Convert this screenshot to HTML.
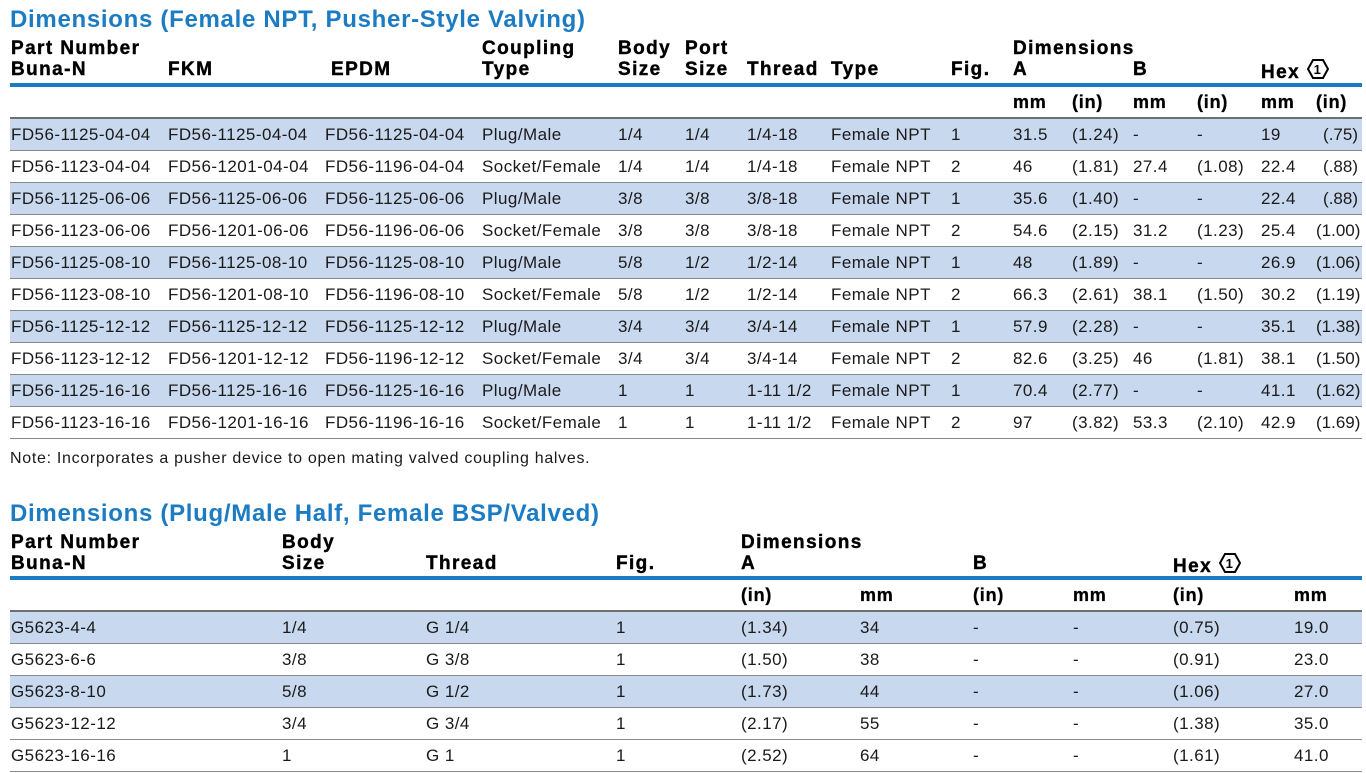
<!DOCTYPE html>
<html><head><meta charset="utf-8"><style>
body{margin:0;width:1366px;height:773px;background:#fff;font-family:"Liberation Sans",Arial,sans-serif;color:#1a1a1a;position:relative;overflow:hidden}
.t{position:absolute;left:10px;font-size:24px;font-weight:bold;color:#1b7cc4;white-space:nowrap;letter-spacing:0.7px}
.h{position:absolute;font-size:19px;font-weight:bold;line-height:21px;white-space:nowrap;color:#000;letter-spacing:1.4px;-webkit-text-stroke:0.4px #000}
.bl{position:absolute;left:10px;width:1352px;height:4px;background:#1b7cc4}
table{position:absolute;left:10px;border-collapse:collapse;table-layout:fixed;width:1352px}
td{height:31px;padding:0 0 0 1px;font-size:17px;letter-spacing:0.45px;white-space:nowrap;border-bottom:1px solid #8a8a8a;vertical-align:middle;overflow:visible}
tr.u td{font-weight:bold;font-size:18px;letter-spacing:0.8px;border-bottom:2px solid #6f6f6f;height:30px;color:#000;-webkit-text-stroke:0.3px #000}
tr.s td{background:#c8d8ee}
.r{text-align:right;padding-right:4px;letter-spacing:0}
.note{position:absolute;left:10px;top:450px;font-size:16px;letter-spacing:0.7px}
</style></head><body>
<div class="t" style="top:6px">Dimensions (Female NPT, Pusher-Style Valving)</div>
<div class="h" style="left:11px;top:38px">Part Number<br>Buna-N</div>
<div class="h" style="left:168px;top:59px">FKM</div>
<div class="h" style="left:331px;top:59px">EPDM</div>
<div class="h" style="left:482px;top:38px">Coupling<br>Type</div>
<div class="h" style="left:618px;top:38px">Body<br>Size</div>
<div class="h" style="left:685px;top:38px">Port<br>Size</div>
<div class="h" style="left:747px;top:59px">Thread</div>
<div class="h" style="left:831px;top:59px">Type</div>
<div class="h" style="left:951px;top:59px">Fig.</div>
<div class="h" style="left:1013px;top:38px">Dimensions<br>A</div>
<div class="h" style="left:1133px;top:59px">B</div>
<div class="h" style="left:1261px;top:59px">Hex <svg width="22" height="20" viewBox="0 0 22 20" style="vertical-align:-1px"><polygon points="6,1 16,1 21,10 16,19 6,19 1,10" fill="none" stroke="#000" stroke-width="2"/><text x="11" y="15" font-size="13" font-weight="bold" text-anchor="middle" font-family="Liberation Sans">1</text></svg></div>
<div class="bl" style="top:83px"></div>
<table style="top:87px">
<colgroup><col style="width:157px"><col style="width:157px"><col style="width:157px"><col style="width:136px"><col style="width:67px"><col style="width:62px"><col style="width:84px"><col style="width:120px"><col style="width:62px"><col style="width:59px"><col style="width:61px"><col style="width:64px"><col style="width:64px"><col style="width:55px"><col style="width:47px"></colgroup>
<tr class="u"><td></td><td></td><td></td><td></td><td></td><td></td><td></td><td></td><td></td><td>mm</td><td>(in)</td><td>mm</td><td>(in)</td><td>mm</td><td>(in)</td></tr>
<tr class="s"><td>FD56-1125-04-04</td><td>FD56-1125-04-04</td><td>FD56-1125-04-04</td><td>Plug/Male</td><td>1/4</td><td>1/4</td><td>1/4-18</td><td>Female NPT</td><td>1</td><td>31.5</td><td>(1.24)</td><td>-</td><td>-</td><td>19</td><td class="r">(.75)</td></tr>
<tr><td>FD56-1123-04-04</td><td>FD56-1201-04-04</td><td>FD56-1196-04-04</td><td>Socket/Female</td><td>1/4</td><td>1/4</td><td>1/4-18</td><td>Female NPT</td><td>2</td><td>46</td><td>(1.81)</td><td>27.4</td><td>(1.08)</td><td>22.4</td><td class="r">(.88)</td></tr>
<tr class="s"><td>FD56-1125-06-06</td><td>FD56-1125-06-06</td><td>FD56-1125-06-06</td><td>Plug/Male</td><td>3/8</td><td>3/8</td><td>3/8-18</td><td>Female NPT</td><td>1</td><td>35.6</td><td>(1.40)</td><td>-</td><td>-</td><td>22.4</td><td class="r">(.88)</td></tr>
<tr><td>FD56-1123-06-06</td><td>FD56-1201-06-06</td><td>FD56-1196-06-06</td><td>Socket/Female</td><td>3/8</td><td>3/8</td><td>3/8-18</td><td>Female NPT</td><td>2</td><td>54.6</td><td>(2.15)</td><td>31.2</td><td>(1.23)</td><td>25.4</td><td class="r">(1.00)</td></tr>
<tr class="s"><td>FD56-1125-08-10</td><td>FD56-1125-08-10</td><td>FD56-1125-08-10</td><td>Plug/Male</td><td>5/8</td><td>1/2</td><td>1/2-14</td><td>Female NPT</td><td>1</td><td>48</td><td>(1.89)</td><td>-</td><td>-</td><td>26.9</td><td class="r">(1.06)</td></tr>
<tr><td>FD56-1123-08-10</td><td>FD56-1201-08-10</td><td>FD56-1196-08-10</td><td>Socket/Female</td><td>5/8</td><td>1/2</td><td>1/2-14</td><td>Female NPT</td><td>2</td><td>66.3</td><td>(2.61)</td><td>38.1</td><td>(1.50)</td><td>30.2</td><td class="r">(1.19)</td></tr>
<tr class="s"><td>FD56-1125-12-12</td><td>FD56-1125-12-12</td><td>FD56-1125-12-12</td><td>Plug/Male</td><td>3/4</td><td>3/4</td><td>3/4-14</td><td>Female NPT</td><td>1</td><td>57.9</td><td>(2.28)</td><td>-</td><td>-</td><td>35.1</td><td class="r">(1.38)</td></tr>
<tr><td>FD56-1123-12-12</td><td>FD56-1201-12-12</td><td>FD56-1196-12-12</td><td>Socket/Female</td><td>3/4</td><td>3/4</td><td>3/4-14</td><td>Female NPT</td><td>2</td><td>82.6</td><td>(3.25)</td><td>46</td><td>(1.81)</td><td>38.1</td><td class="r">(1.50)</td></tr>
<tr class="s"><td>FD56-1125-16-16</td><td>FD56-1125-16-16</td><td>FD56-1125-16-16</td><td>Plug/Male</td><td>1</td><td>1</td><td>1-11 1/2</td><td>Female NPT</td><td>1</td><td>70.4</td><td>(2.77)</td><td>-</td><td>-</td><td>41.1</td><td class="r">(1.62)</td></tr>
<tr><td>FD56-1123-16-16</td><td>FD56-1201-16-16</td><td>FD56-1196-16-16</td><td>Socket/Female</td><td>1</td><td>1</td><td>1-11 1/2</td><td>Female NPT</td><td>2</td><td>97</td><td>(3.82)</td><td>53.3</td><td>(2.10)</td><td>42.9</td><td class="r">(1.69)</td></tr>
</table>
<div class="note">Note: Incorporates a pusher device to open mating valved coupling halves.</div>

<div class="t" style="top:500px">Dimensions (Plug/Male Half, Female BSP/Valved)</div>
<div class="h" style="left:11px;top:532px">Part Number<br>Buna-N</div>
<div class="h" style="left:282px;top:532px">Body<br>Size</div>
<div class="h" style="left:426px;top:553px">Thread</div>
<div class="h" style="left:616px;top:553px">Fig.</div>
<div class="h" style="left:741px;top:532px">Dimensions<br>A</div>
<div class="h" style="left:973px;top:553px">B</div>
<div class="h" style="left:1173px;top:553px">Hex <svg width="22" height="20" viewBox="0 0 22 20" style="vertical-align:-1px"><polygon points="6,1 16,1 21,10 16,19 6,19 1,10" fill="none" stroke="#000" stroke-width="2"/><text x="11" y="15" font-size="13" font-weight="bold" text-anchor="middle" font-family="Liberation Sans">1</text></svg></div>
<div class="bl" style="top:576px"></div>
<table style="top:580px">
<colgroup><col style="width:271px"><col style="width:144px"><col style="width:190px"><col style="width:125px"><col style="width:119px"><col style="width:113px"><col style="width:100px"><col style="width:100px"><col style="width:121px"><col style="width:69px"></colgroup>
<tr class="u"><td></td><td></td><td></td><td></td><td>(in)</td><td>mm</td><td>(in)</td><td>mm</td><td>(in)</td><td>mm</td></tr>
<tr class="s"><td>G5623-4-4</td><td>1/4</td><td>G 1/4</td><td>1</td><td>(1.34)</td><td>34</td><td>-</td><td>-</td><td>(0.75)</td><td>19.0</td></tr>
<tr><td>G5623-6-6</td><td>3/8</td><td>G 3/8</td><td>1</td><td>(1.50)</td><td>38</td><td>-</td><td>-</td><td>(0.91)</td><td>23.0</td></tr>
<tr class="s"><td>G5623-8-10</td><td>5/8</td><td>G 1/2</td><td>1</td><td>(1.73)</td><td>44</td><td>-</td><td>-</td><td>(1.06)</td><td>27.0</td></tr>
<tr><td>G5623-12-12</td><td>3/4</td><td>G 3/4</td><td>1</td><td>(2.17)</td><td>55</td><td>-</td><td>-</td><td>(1.38)</td><td>35.0</td></tr>
<tr><td>G5623-16-16</td><td>1</td><td>G 1</td><td>1</td><td>(2.52)</td><td>64</td><td>-</td><td>-</td><td>(1.61)</td><td>41.0</td></tr>
</table>
</body></html>
